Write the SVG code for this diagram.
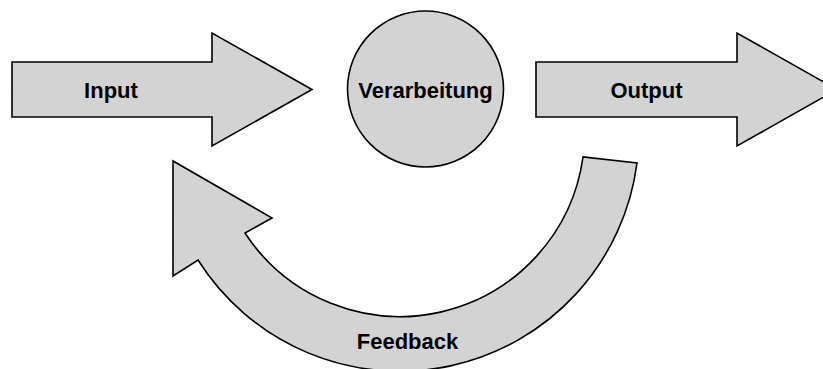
<svg xmlns="http://www.w3.org/2000/svg" width="823" height="369" viewBox="0 0 823 369">
<style>
.shape{fill:#d3d3d3;stroke:#000;stroke-width:1.6;stroke-linejoin:miter}
.lbl{font-family:"Liberation Sans",Arial,Helvetica,sans-serif;font-weight:bold;font-size:22px;fill:#000;text-anchor:middle}
</style>
<rect width="823" height="369" fill="#fff"/>
<g id="input">
<path class="shape" d="M12,62 L212,62 L212,33 L312,89.5 L212,146 L212,117 L12,117 Z"/>
<text class="lbl" x="111" y="98">Input</text>
</g>
<g id="verarbeitung">
<circle class="shape" cx="425.5" cy="89" r="78"/>
<text class="lbl" x="425.5" y="97.5">Verarbeitung</text>
</g>
<g id="output">
<path class="shape" d="M536,62 L737,62 L737,33 L837,89.5 L737,146 L737,117 L536,117 Z"/>
<text class="lbl" x="646.5" y="98">Output</text>
</g>
<g id="connectors">
<g id="feedback">
<path class="shape" d="M583,157 A185,185 0 0 1 245,233 L272,218 L173,161 L173,276 L198,260 A239,239 0 0 0 637,163 Z"/>
<text class="lbl" x="407.5" y="348.5">Feedback</text>
</g>
</g>
</svg>
